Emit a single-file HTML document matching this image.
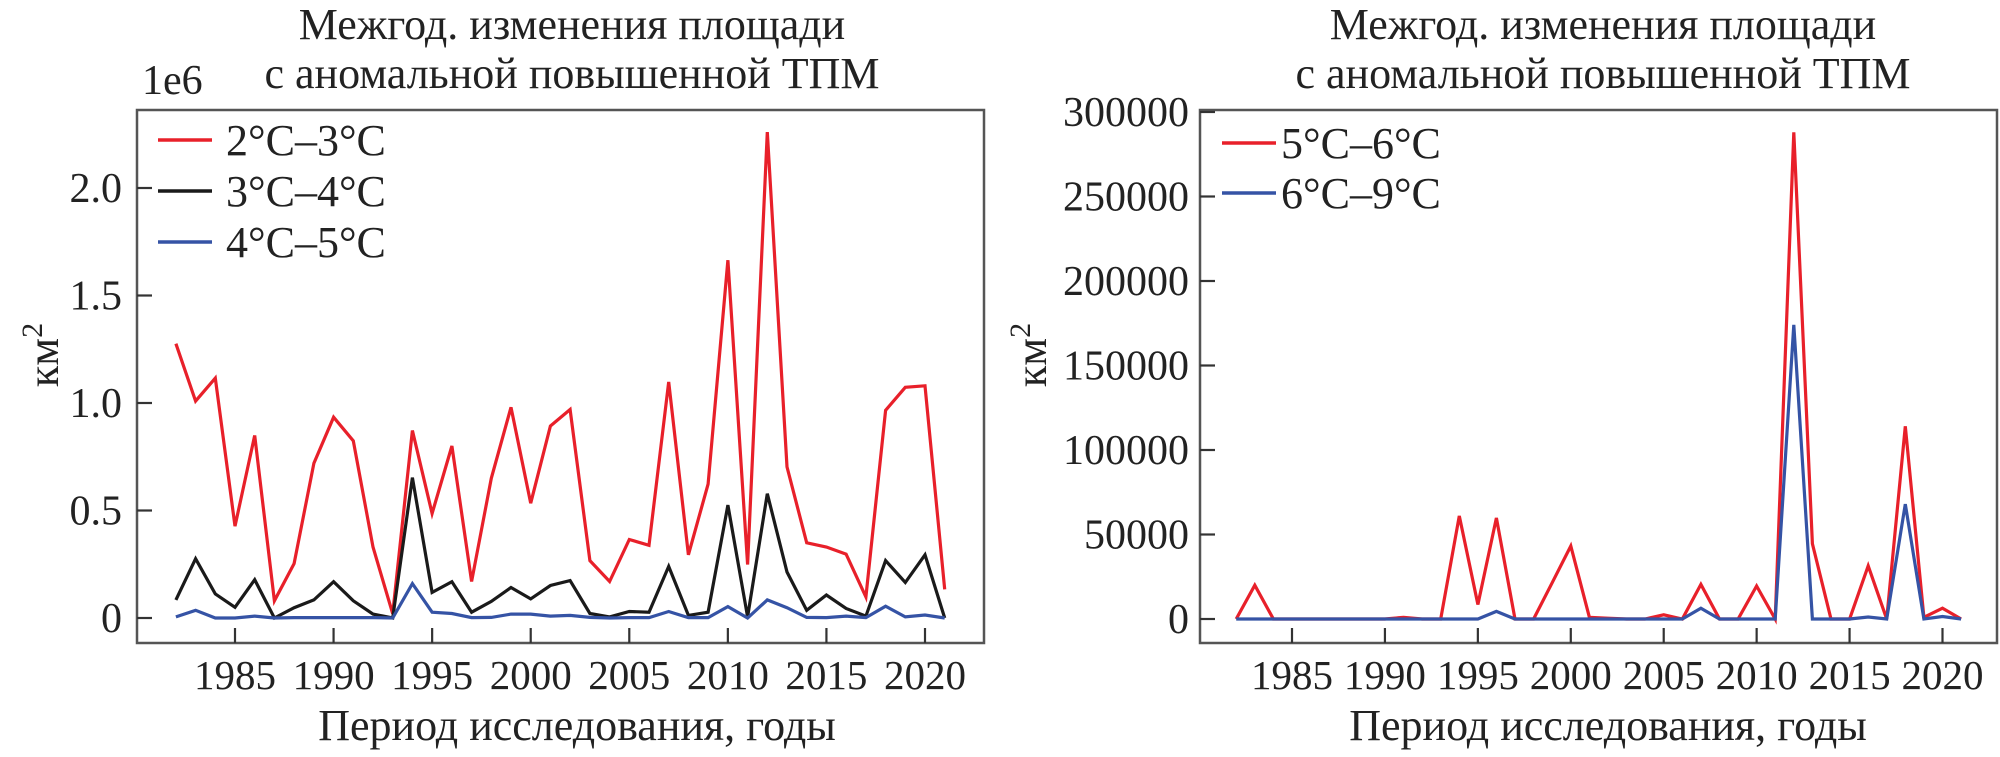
<!DOCTYPE html>
<html><head><meta charset="utf-8"><style>
html,body{margin:0;padding:0;background:#fff;}
svg{display:block;font-family:"Liberation Serif",serif;}
</style></head><body>
<svg id="fig" width="2000" height="757" viewBox="0 0 2000 757" xmlns="http://www.w3.org/2000/svg"></svg>
<script>
const years = [];
for (let y = 1982; y <= 2021; y++) years.push(y);
const leftRed = [1.276,1.009,1.116,0.427,0.849,0.08,0.253,0.72,0.934,0.824,0.33,0.02,0.872,0.486,0.80,0.17,0.65,0.98,0.534,0.893,0.97,0.267,0.17,0.365,0.338,1.098,0.294,0.623,1.664,0.249,2.26,0.703,0.35,0.33,0.297,0.098,0.966,1.073,1.08,0.133];
const leftBlack = [0.084,0.276,0.112,0.05,0.178,0,0.048,0.084,0.169,0.08,0.018,0,0.653,0.119,0.169,0.027,0.077,0.142,0.089,0.151,0.174,0.021,0.005,0.03,0.027,0.24,0.012,0.027,0.525,0.005,0.578,0.214,0.036,0.107,0.044,0.009,0.267,0.165,0.294,0];
const leftBlue = [0.005,0.036,0,0,0.009,0,0.002,0.002,0.002,0.002,0.002,0,0.16,0.027,0.021,0.002,0.003,0.018,0.018,0.009,0.012,0.003,0,0.002,0.002,0.03,0.002,0.002,0.053,0,0.084,0.048,0.003,0.002,0.009,0.002,0.055,0.005,0.014,0];
const rightRed = [0,20000,0,0,0,0,0,0,0,1000,0,0,61000,8600,59800,0,0,21500,43200,1000,500,0,0,2500,0,20500,0,0,19500,0,288000,44500,0,0,31400,0,114000,1000,6400,0];
const rightBlue = [0,0,0,0,0,0,0,0,0,0,0,0,0,0,4500,0,0,0,0,0,0,0,0,0,0,6400,0,0,0,0,174000,0,0,0,1200,0,68000,0,1500,0];
const leftYTicks = [0,0.5,1.0,1.5,2.0];
const leftYLabels = ["0","0.5","1.0","1.5","2.0"];
const rightYTicks = [0,50000,100000,150000,200000,250000,300000];
const rightYLabels = ["0","50000","100000","150000","200000","250000","300000"];
const xTicks = [1985,1990,1995,2000,2005,2010,2015,2020];

const NS = "http://www.w3.org/2000/svg";
const svg = document.getElementById('fig');
function mk(tag, attrs, parent){
  const e = document.createElementNS(NS, tag);
  for (const k in attrs) e.setAttribute(k, attrs[k]);
  (parent||svg).appendChild(e);
  return e;
}
function txt(s, attrs, parent){ const t = mk('text', attrs, parent); t.textContent = s; return t; }

function panel(cfg){
  const g = mk('g', {});
  
  
  const L=cfg.left,R=cfg.right,T=110,B=643;
  const xs = x => cfg.x1985 + (x - 1985) * (cfg.x2020 - cfg.x1985) / 35;
  const ys = v => cfg.y0 - v * cfg.k;
  const cx = cfg.titleX;
  const t1 = txt("Межгод. изменения площади", {x:cx, y:39, 'text-anchor':'middle','font-size':44,fill:'#222'}, g);
   
  const t2 = txt("с аномальной повышенной ТПМ", {x:cx, y:88, 'text-anchor':'middle','font-size':44,fill:'#222'}, g);
   
  cfg.series.forEach(s => {
    const pts = years.map((yr,i)=> xs(yr).toFixed(1)+','+ys(s.data[i]).toFixed(1)).join(' ');
    const p = mk('polyline', {points:pts, fill:'none', stroke:s.color, 'stroke-width':3.2, 'stroke-linejoin':'miter'}, g);
    
    
  });
  const f = mk('rect', {x:L, y:T, width:R-L, height:B-T, fill:'none', stroke:'#555', 'stroke-width':2.5}, g);
   
  xTicks.forEach(yr => {
    const x = xs(yr);
    mk('line', {x1:x, y1:B, x2:x, y2:B-15, stroke:'#333','stroke-width':2.2}, g);
    const l = txt(String(yr), {x:x, y:689, 'text-anchor':'middle','font-size':41,fill:'#222'}, g);
     
  });
  cfg.yTicks.forEach((v,i) => {
    const y = ys(v);
    mk('line', {x1:L, y1:y, x2:L+15, y2:y, stroke:'#333','stroke-width':2.2}, g);
    const l = txt(cfg.yLabels[i], {x:cfg.ylabRight, y:y+14, 'text-anchor':'end','font-size':42,fill:'#222'}, g);
     
  });
  const xl = txt("Период исследования, годы", {x:cfg.titleX+5, y:740, 'text-anchor':'middle','font-size':44,fill:'#222'}, g);
   
  const yl = mk('text', {x:0,y:0,'font-size':44,fill:'#222','text-anchor':'middle',transform:`translate(${cfg.ylabX},355) rotate(-90)`}, g);
   
  yl.appendChild(document.createTextNode('км'));
  const sup = document.createElementNS(NS,'tspan'); sup.setAttribute('dy','-16'); sup.setAttribute('font-size','30'); sup.textContent='2'; yl.appendChild(sup);
  cfg.series.forEach((s,i) => {
    const y = cfg.legY[i];
    const lg = mk('g', {}, g);
     
    mk('line', {x1:cfg.legX, y1:y, x2:cfg.legX+54, y2:y, stroke:s.color,'stroke-width':3.5}, lg);
    txt(s.label, {x:cfg.legTextX, y:y+15, 'font-size':44, fill:'#222'}, lg);
  });
  return g;
}

panel({name:'left-chart', left:137, right:984, x1985:235, x2020:925, y0:618, k:215, titleX:572,
  yTicks:leftYTicks, yLabels:leftYLabels, ylabX:58, ylabRight:122, legX:158, legTextX:226, legY:[140,191,242],
  series:[{id:'2-3C',label:'2°C–3°C',color:'#e8202a',data:leftRed},
          {id:'3-4C',label:'3°C–4°C',color:'#1a1a1a',data:leftBlack},
          {id:'4-5C',label:'4°C–5°C',color:'#3553a5',data:leftBlue}]});
const s1 = txt("1e6", {x:142, y:94, 'font-size':42, fill:'#222'});
 

panel({name:'right-chart', left:1200, right:1997, x1985:1292, x2020:1942.5, y0:619, k:(619-112)/300000, titleX:1603,
  yTicks:rightYTicks, yLabels:rightYLabels, ylabX:1046, ylabRight:1189, legX:1222, legTextX:1281, legY:[143,193],
  series:[{id:'5-6C',label:'5°C–6°C',color:'#e8202a',data:rightRed},
          {id:'6-9C',label:'6°C–9°C',color:'#3553a5',data:rightBlue}]});
</script>
</body></html>
